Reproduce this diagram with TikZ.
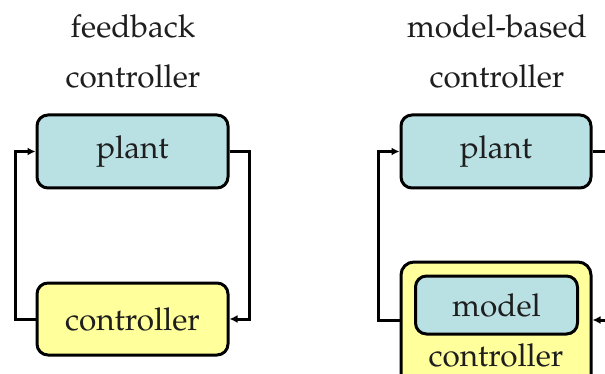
\documentclass[tikz,border=0pt]{standalone}
\usepackage[T1]{fontenc}
\usepackage{mathpazo}
\usetikzlibrary{arrows.meta}
\definecolor{plantfill}{RGB}{185,224,227}
\definecolor{ctrlfill}{RGB}{255,255,156}
\definecolor{ink}{RGB}{30,30,30}
\tikzset{
  blk/.style={draw=black, line width=3pt, rounded corners=11pt, inner sep=0pt,
    text=ink, font=\fontsize{31.5}{37}\selectfont},
  plantblk/.style={blk, fill=plantfill},
  ctrlblk/.style={blk, fill=ctrlfill},
  wire/.style={line width=3pt, line join=miter},
  arr/.style={wire, -{Latex[length=8pt,width=8pt]}},
  title/.style={font=\fontsize{31.5}{37}\selectfont, text=ink, anchor=base, inner sep=0pt},
  lbl/.style={font=\fontsize{31.5}{37}\selectfont, text=ink, inner sep=0pt}
}
\begin{document}
\begin{tikzpicture}[x=1pt,y=-1pt]
  \useasboundingbox (0,0) rectangle (605,374);
  \clip (0,0) rectangle (605,374);

  % ---- feedback controller ----
  \node[title] (t1a) at (133,38) {feedback};
  \node[title] (t1b) at (133,88) {controller};
  \node[plantblk, minimum width=191pt, minimum height=73pt] (p1) at (132.5,151.5) {plant};
  \node[ctrlblk, minimum width=191pt, minimum height=72pt] (c1) at (132.5,319) {controller};
  \coordinate (l1) at (15,0);
  \coordinate (r1) at (249,0);
  \draw[arr] (c1.west) -| (l1 |- p1.west) -- (p1.west);
  \draw[arr] (p1.east) -| (r1 |- c1.east) -- (c1.east);

  % ---- model-based controller ----
  \node[title] (t2a) at (497,38) {model-based};
  \node[title] (t2b) at (497,88) {controller};
  \node[plantblk, minimum width=190pt, minimum height=73pt] (p2) at (496,151.5) {plant};
  \node[ctrlblk, minimum width=190pt, minimum height=130pt, rounded corners=13pt] (c2) at (496,327) {};
  \node[plantblk, minimum width=162pt, minimum height=58pt] (m2) at (496.5,305) {model};
  \node[lbl] (c2t) at (496,355) {controller};
  \coordinate (l2) at (378,0);
  \coordinate (r2) at (620,0);
  \draw[arr] (c2.west |- 0,320) -| (l2 |- p2.west) -- (p2.west);
  \draw[wire] (p2.east) -- (r2 |- p2.east);
  \draw[arr] (r2 |- 0,320) -- (c2.east |- 0,320);
\end{tikzpicture}
\end{document}
